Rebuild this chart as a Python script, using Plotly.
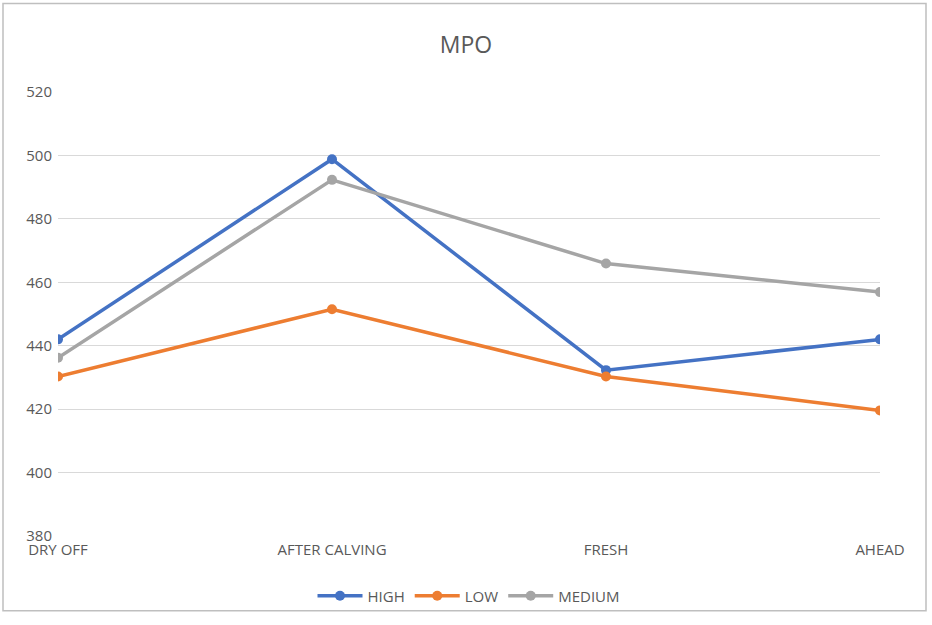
import plotly.graph_objects as go

categories = ["DRY OFF", "AFTER CALVING", "FRESH", "AHEAD"]
high = [442, 498.8, 432.3, 442]
low = [430.3, 451.5, 430.3, 419.6]
medium = [436.2, 492.3, 465.9, 456.9]
y_ticks = [380, 400, 420, 440, 460, 480, 500, 520]

colors = {"HIGH": "#4472C4", "LOW": "#ED7D31", "MEDIUM": "#A5A5A5"}

fig = go.Figure()
for name, vals in [("HIGH", high), ("LOW", low), ("MEDIUM", medium)]:
    fig.add_trace(go.Scatter(
        x=categories, y=vals, name=name, mode="lines+markers",
        line=dict(color=colors[name], width=3.5),
        marker=dict(color=colors[name], size=10),
    ))

W, H = 932, 625
l, r, t, b = 58, 52, 92, 82
pw, ph = W - l - r, H - t - b

def px_x(p):
    return (p - l) / pw

def px_y(p):
    return (H - b - p) / ph

fig.add_shape(type="rect", xref="paper", yref="paper",
              x0=px_x(3), x1=px_x(926), y0=px_y(619), y1=px_y(2),
              line=dict(color="#BFBFBF", width=1.5), layer="below")

fig.update_layout(
    autosize=False,
    width=W, height=H,
    margin=dict(l=l, r=r, t=t, b=b, pad=0),
    paper_bgcolor="white", plot_bgcolor="white",
    font=dict(family="Open Sans", color="#595959", size=15),
    title=dict(text="MPO", x=0.5, xanchor="center", y=1 - 45 / H, yanchor="middle",
               font=dict(size=23, color="#595959")),
    showlegend=True,
    legend=dict(orientation="h", x=0.5, xanchor="center", y=px_y(604), yanchor="middle",
                bgcolor="rgba(0,0,0,0)",
                font=dict(size=15, color="#595959"), itemwidth=45),
    xaxis=dict(type="category", range=[0, 3], showgrid=False, zeroline=False,
               showline=False, ticks="", ticklabelstandoff=3,
               tickfont=dict(size=15, color="#595959")),
    yaxis=dict(range=[380, 520], tickvals=y_ticks, showgrid=True,
               gridcolor="#D9D9D9", gridwidth=1, zeroline=False, showline=False,
               ticks="", ticklabelstandoff=5, tickfont=dict(size=15, color="#595959")),
)

post = (
    "document.documentElement.style.margin='0';"
    "document.body.style.margin='0';"
    "document.body.style.padding='0';"
)
fig.write_html("out.html", config={"displayModeBar": False, "responsive": False},
               post_script=post, default_width=f"{W}px", default_height=f"{H}px")
